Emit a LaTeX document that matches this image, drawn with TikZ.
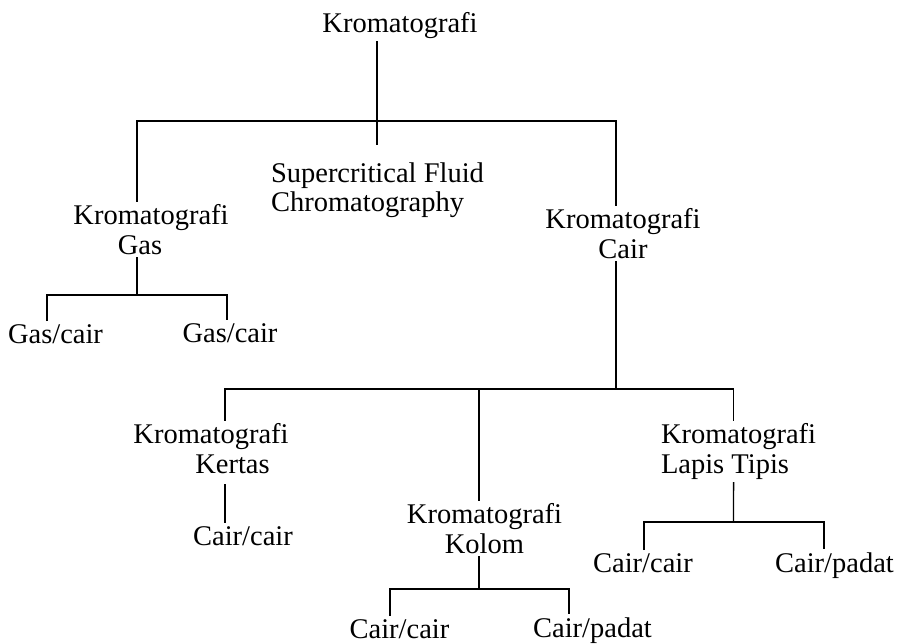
\documentclass[tikz,border=0pt]{standalone}
\usepackage{fontspec}
\setmainfont{Liberation Serif}
\newcommand{\chartfont}{\fontsize{28.5}{29.5}\selectfont}
\tikzset{
  kind/.style={font=\chartfont, inner sep=0pt, outer sep=3pt, anchor=north, align=center},
  leaf/.style={font=\chartfont, inner sep=0pt, outer sep=3pt, anchor=base},
  link/.style={line width=1.4pt}
}
\begin{document}
\begin{tikzpicture}[x=1pt,y=-1pt]
\useasboundingbox (0,0) rectangle (900,643);

\node [leaf] (root) at (400,32) {Kromatografi};
\node [kind] (gc) at (151,201.5) {Kromatografi\\\hspace*{-22pt}Gas};
\node [kind,anchor=north west,align=left] (sfc) at (268,159.5) {Supercritical Fluid\\Chromatography};
\node [kind] (lc) at (623,205.5) {Kromatografi\\Cair};

\node [leaf] (gc1) at (55.5,343) {Gas/cair};
\node [leaf] (gc2) at (230,342) {Gas/cair};

\node [kind] (paper) at (211,420.5) {Kromatografi\\\hspace*{43pt}Kertas};
\node [kind] (column) at (484.5,500.5) {Kromatografi\\Kolom};
\node [kind,anchor=north west,align=left] (tlc) at (658,420.5) {Kromatografi\\Lapis Tipis};

\node [leaf] (paper1) at (243,545) {Cair/cair};
\node [leaf] (column1) at (399.5,638) {Cair/cair};
\node [leaf] (column2) at (592.5,637) {Cair/padat};
\node [leaf] (tlc1) at (643,572) {Cair/cair};
\node [leaf] (tlc2) at (834.5,572) {Cair/padat};

\coordinate (b0) at (377,121);
\coordinate (b1) at (137,295);
\coordinate (b2) at (616,389);
\coordinate (b3) at (479,589);
\coordinate (b4) at (733.5,522);

\draw [link,shorten >=14.5pt] (root.south -| b0) -- (sfc.north -| b0);
\draw [link] ([xshift=-14pt]gc.north) |- (b0) -| ([xshift=-7pt]lc.north);

\draw [link] ([xshift=-14pt]gc.south) -- (b1);
\draw [link] ([xshift=-8.5pt]gc1.north) |- (b1) -| ([xshift=-3pt]gc2.north);

\draw [link] ([xshift=-7pt]lc.south) -- (b2);
\draw [link] ([xshift=14pt]paper.north) |- (b2) -| ([xshift=-5pt]tlc.north);
\draw [link] ([xshift=-5.5pt]column.north) |- (b2);

\draw [link,shorten <=8pt] ([xshift=14pt]paper.south) -- ([xshift=-18pt]paper1.north);

\draw [link] ([xshift=-5.5pt]column.south) -- (b3);
\draw [link] ([xshift=-9.5pt]column1.north) |- (b3) -| ([xshift=-23.5pt]column2.north);

\draw [link] ([xshift=-5pt]tlc.south) -- (b4);
\draw [link] ([xshift=1pt]tlc1.north) |- (b4) -| ([xshift=-10.5pt]tlc2.north);

\end{tikzpicture}
\end{document}
